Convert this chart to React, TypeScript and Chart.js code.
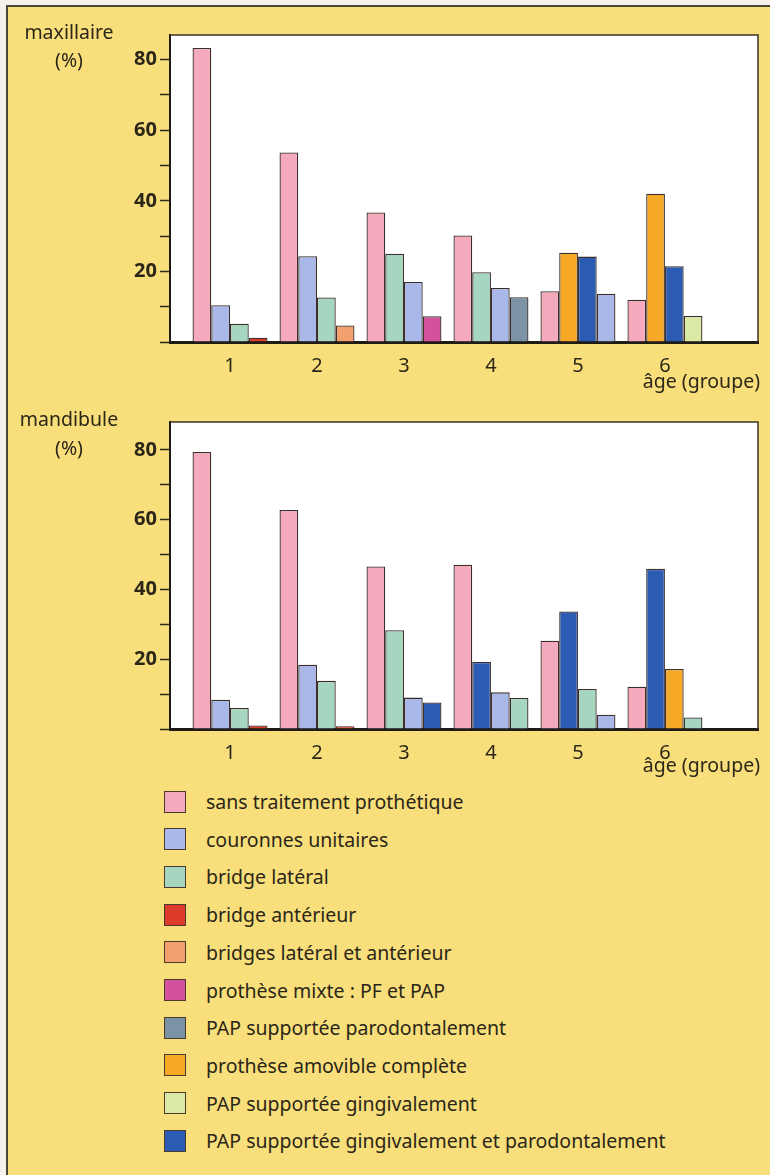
import React, { useEffect, useRef } from "react";
import { Chart, registerables } from "chart.js";

Chart.register(...registerables);

const GROUPS = ["1", "2", "3", "4", "5", "6"];

const CATEGORIES = [
  "sans traitement prothétique",
  "couronnes unitaires",
  "bridge latéral",
  "bridge antérieur",
  "bridges latéral et antérieur",
  "prothèse mixte : PF et PAP",
  "PAP supportée parodontalement",
  "prothèse amovible complète",
  "PAP supportée gingivalement",
  "PAP supportée gingivalement et parodontalement",
];

const COLORS = [
  "#f5a9bc",
  "#a9b8e8",
  "#a6d6c0",
  "#dc3b2c",
  "#f4a06e",
  "#d4529c",
  "#7b93a5",
  "#f5a926",
  "#dbe9a6",
  "#2c5bb3",
];

// For each age group: which category each of the 4 bars shows (left to right)
const MAX_SERIES = [
  [0, 1, 2, 3],
  [0, 1, 2, 4],
  [0, 2, 1, 5],
  [0, 2, 1, 6],
  [0, 7, 9, 1],
  [0, 7, 9, 8],
];
const MAX_VALUES = [
  [83.3, 10.4, 5.2, 1.2],
  [53.7, 24.3, 12.6, 4.7],
  [36.7, 25.0, 17.0, 7.3],
  [30.2, 19.8, 15.3, 12.7],
  [14.4, 25.3, 24.2, 13.7],
  [12.0, 42.0, 21.5, 7.4],
];

const MAN_SERIES = [
  [0, 1, 2, 3],
  [0, 1, 2, 3],
  [0, 2, 1, 9],
  [0, 9, 1, 2],
  [0, 9, 2, 1],
  [0, 9, 7, 2],
];
const MAN_VALUES = [
  [79.4, 8.4, 6.0, 1.0],
  [62.8, 18.4, 13.8, 0.8],
  [46.6, 28.3, 9.0, 7.6],
  [47.1, 19.2, 10.5, 8.9],
  [25.3, 33.7, 11.5, 4.1],
  [12.1, 45.9, 17.2, 3.3],
];

const Y_TICK_LABELS = ["20", "40", "60", "80"];

const INK = "#2b2618";
const FONT = "'Noto Sans', sans-serif";
const BG = "#f8df7b";

const plotFrame = {
  id: "plotFrame",
  beforeDraw(chart: any) {
    const { ctx, chartArea: a } = chart;
    ctx.save();
    ctx.fillStyle = "#ffffff";
    ctx.fillRect(a.left, a.top, a.right - a.left, a.bottom - a.top);
    ctx.restore();
  },
  afterDraw(chart: any) {
    const { ctx, chartArea: a } = chart;
    ctx.save();
    ctx.strokeStyle = "#3a3528";
    ctx.lineWidth = 1.5;
    ctx.beginPath();
    ctx.moveTo(a.left, a.top);
    ctx.lineTo(a.right, a.top);
    ctx.lineTo(a.right, a.bottom);
    ctx.stroke();
    ctx.restore();
  },
};

function BarPanel(props: {
  series: number[][];
  values: number[][];
  yMax: number;
  top: number;
}) {
  const ref = useRef<HTMLCanvasElement | null>(null);
  useEffect(() => {
    if (!ref.current) return;
    const H = 385;
    const slots = [0, 1, 2, 3];
    const chart = new Chart(ref.current, {
      type: "bar",
      data: {
        datasets: slots.map((s) => ({
          label: "slot " + (s + 1),
          data: GROUPS.map((_, i) => ({ x: i + 1, y: props.values[i][s] })),
          backgroundColor: GROUPS.map((_, i) => COLORS[props.series[i][s]]),
          borderColor: "#3a2f2c",
          borderWidth: 1.3,
          categoryPercentage: 0.862,
          barPercentage: 1,
        })),
      } as any,
      options: {
        animation: false,
        responsive: false,
        maintainAspectRatio: false,
        layout: { padding: { left: 0, right: 12, top: 35, bottom: 0 } },
        plugins: { legend: { display: false }, tooltip: { enabled: false } },
        scales: {
          x: {
            type: "linear",
            offset: false,
            bounds: "data",
            min: 0.31,
            max: 7.07,
            z: 1,
            afterBuildTicks: (scale: any) => {
              scale.ticks = GROUPS.map((_, i) => ({ value: i + 1 }));
            },
            afterFit: (scale: any) => {
              scale.height = H - 342;
            },
            grid: { display: false },
            border: { display: true, width: 3, color: "#1e1a14" },
            ticks: {
              autoSkip: false,
              maxRotation: 0,
              padding: 4,
              color: INK,
              font: { family: FONT, size: 20 },
              callback: (v: any) => GROUPS[Number(v) - 1] ?? "",
            },
          },
          y: {
            min: 0,
            max: props.yMax,
            afterFit: (scale: any) => {
              scale.width = 170;
            },
            grid: {
              drawOnChartArea: false,
              drawTicks: true,
              tickLength: 10,
              tickColor: INK,
              tickWidth: 1.5,
            },
            border: { display: true, width: 2, color: "#1e1a14" },
            ticks: {
              stepSize: 10,
              includeBounds: false,
              padding: 3,
              color: INK,
              font: { family: FONT, size: 20, weight: "bold" },
              callback: (v: any) =>
                Y_TICK_LABELS.includes(String(v)) ? String(v) : "",
            },
          },
        },
      } as any,
      plugins: [plotFrame],
    });
    return () => chart.destroy();
  }, []);
  return (
    <canvas
      ref={ref}
      width={770}
      height={385}
      style={{ position: "absolute", left: 0, top: props.top, width: 770, height: 385 }}
    />
  );
}

const txt: React.CSSProperties = {
  position: "absolute",
  fontFamily: FONT,
  color: INK,
  fontSize: 19.5,
  lineHeight: "22px",
  whiteSpace: "nowrap",
};

export default function App() {
  return (
    <div
      style={{
        position: "absolute",
        left: 0,
        top: 0,
        width: 770,
        height: 1175,
        background: "#f4f2ea",
        overflow: "hidden",
      }}
    >
      <div
        style={{
          position: "absolute",
          left: 6,
          top: 5,
          width: 770,
          height: 1175,
          background: BG,
          borderTop: "2px solid #4a4636",
          borderLeft: "2px solid #4a4636",
        }}
      />
      <BarPanel series={MAX_SERIES} values={MAX_VALUES} yMax={87} top={0} />
      <BarPanel series={MAN_SERIES} values={MAN_VALUES} yMax={88} top={387} />

      <div style={{ ...txt, left: 14, top: 21, width: 110, textAlign: "center" }}>maxillaire</div>
      <div style={{ ...txt, left: 14, top: 49, width: 110, textAlign: "center" }}>(%)</div>
      <div style={{ ...txt, right: 10, top: 370, textAlign: "right" }}>âge (groupe)</div>

      <div style={{ ...txt, left: 14, top: 408, width: 110, textAlign: "center" }}>mandibule</div>
      <div style={{ ...txt, left: 14, top: 437, width: 110, textAlign: "center" }}>(%)</div>
      <div style={{ ...txt, right: 10, top: 754, textAlign: "right" }}>âge (groupe)</div>

      {CATEGORIES.map((c, i) => (
        <div
          key={c}
          style={{
            position: "absolute",
            left: 164,
            top: 801.5 + 37.7 * i - 11,
            height: 22,
            display: "flex",
            alignItems: "center",
          }}
        >
          <div
            style={{
              width: 20,
              height: 20,
              flex: "none",
              background: COLORS[i],
              border: "1.5px solid #4a3a2e",
              marginRight: 20,
            }}
          />
          <span style={{ fontFamily: FONT, color: INK, fontSize: 19.5, whiteSpace: "nowrap" }}>{c}</span>
        </div>
      ))}
    </div>
  );
}
